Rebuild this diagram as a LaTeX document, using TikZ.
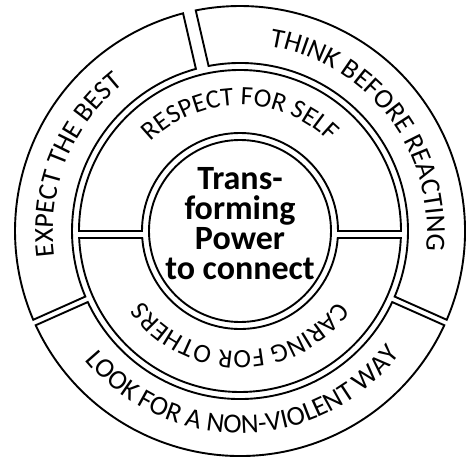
\documentclass[tikz,border=0pt]{standalone}
\usepackage{fontspec}
\setmainfont{Carlito}
\usetikzlibrary{decorations.text}

\newcommand{\ringfont}{\fontsize{27.5}{30}\selectfont}
\newcommand{\selffont}{\fontsize{26.5}{28}\selectfont}

% one piece of a ring: from angle, to angle, gap at from, gap at to, inner r, outer r
\newcommand{\ringpiece}[6]{%
  \pgfmathsetmacro{\pieceAo}{#1+asin(#3/#6)}%
  \pgfmathsetmacro{\pieceBo}{#2-asin(#4/#6)}%
  \pgfmathsetmacro{\pieceAi}{#1+asin(#3/#5)}%
  \pgfmathsetmacro{\pieceBi}{#2-asin(#4/#5)}%
  \draw[ring] (\pieceAo:#6) arc[start angle=\pieceAo, end angle=\pieceBo, radius=#6]
    -- (\pieceBi:#5) arc[start angle=\pieceBi, end angle=\pieceAi, radius=#5] -- cycle;
}

\begin{document}
\begin{tikzpicture}[x=1pt, y=1pt,
    ring/.style={draw, line width=1.9pt, line join=miter},
    arctext/.style={decorate, decoration={text along path, text align=center}},
    core/.style={font=\fontsize{34}{30}\selectfont\bfseries, align=center, inner sep=0pt},
]
\useasboundingbox (-240,-229) rectangle (236,231);

% Outer ring
\ringpiece{103}{204}{6.5}{3}{168}{225}
\ringpiece{-24}{103}{3}{6.5}{168}{225}
\ringpiece{204}{336}{3}{3}{168}{225}

% Middle ring
\ringpiece{0}{180}{0}{0}{98}{161}
\ringpiece{180}{360}{7}{7}{98}{161}

% Hub
\draw[ring] (0,0) circle[radius=91];
\node[core] (core) at (0,7) {Trans-\\forming\\Power\\to connect};

% Texts along the rings
\path[arctext, decoration={text={|\ringfont|EXPECT THE BEST}}]
  (218:187) arc[start angle=218, end angle=98, radius=187];
\path[arctext, decoration={text={|\ringfont|THINK BEFORE REACTING}}]
  (97.5:187) arc[start angle=97.5, end angle=-22.5, radius=187];
\path[arctext, decoration={text={|\ringfont|LOOK FOR A NON-VIOLENT WAY}}]
  (206:202) arc[start angle=206, end angle=336, radius=202];
\path[arctext, decoration={text={|\selffont|RESPECT FOR SELF}}]
  (160:126) arc[start angle=160, end angle=20, radius=126];
\path[arctext, decoration={text={|\selffont|CARING FOR OTHERS}}]
  (340:120) arc[start angle=340, end angle=200, radius=120];

\end{tikzpicture}
\end{document}
